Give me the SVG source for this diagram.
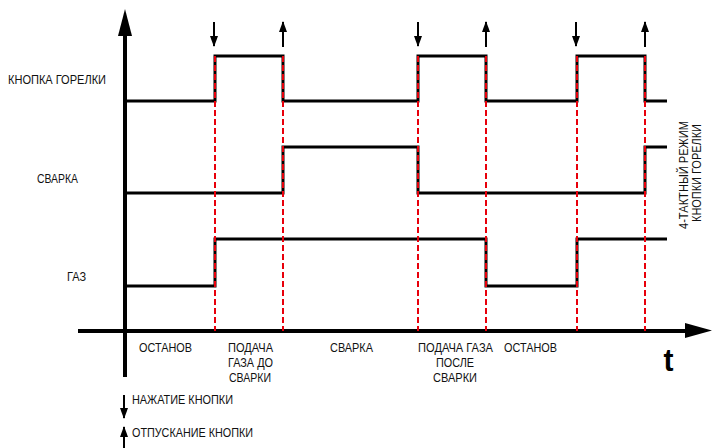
<svg xmlns="http://www.w3.org/2000/svg" width="713" height="448" viewBox="0 0 713 448">
  <style>
    .lbl { font-family: "Liberation Sans Narrow", "Liberation Sans", Arial, sans-serif; font-size: 12.5px; fill: #111; }
    .sig { fill: none; stroke: #000; stroke-width: 3; stroke-linejoin: miter; }
    .mark { stroke: #e8000b; stroke-width: 2; stroke-dasharray: 6 3; fill: none; }
    .axis { stroke: #000; stroke-width: 4; fill: none; }
    .evt { stroke: #000; stroke-width: 2; fill: none; }
  </style>
  <defs>
    <marker id="head" viewBox="0 0 11 8" refX="10" refY="4" markerWidth="5.5" markerHeight="4" markerUnits="strokeWidth" orient="auto">
      <path d="M0,0 L11,4 L0,8 Z" fill="#000"/>
    </marker>
  </defs>

  <rect width="713" height="448" fill="#fff"/>

  <!-- axes -->
  <g id="axes">
    <line class="axis" x1="125" y1="30" x2="125" y2="377"/>
    <polygon points="125,9 118,36 132,36" fill="#000"/>
    <line class="axis" x1="78" y1="331" x2="690" y2="331"/>
    <polygon points="712,330.5 685,323 685,338" fill="#000"/>
    <text x="668.5" y="371" text-anchor="middle" style="font-family: 'Liberation Sans', Arial, sans-serif; font-size: 32px; font-weight: bold;" textLength="10" lengthAdjust="spacingAndGlyphs">t</text>
  </g>

  <!-- signal traces -->
  <g id="signals">
    <polyline id="torch-button" class="sig" points="125,101 215,101 215,56 283,56 283,101 418,101 418,56 486,56 486,101 577,101 577,56 645,56 645,101 667,101"/>
    <polyline id="welding" class="sig" points="125,193 283,193 283,147 418,147 418,193 645,193 645,147 667,147"/>
    <polyline id="gas" class="sig" points="125,286 215,286 215,239 486,239 486,286 577,286 577,239 667,239"/>
  </g>

  <!-- connectors: phase boundaries and button events -->
  <g id="connectors">
    <line class="mark" x1="215" y1="56" x2="215" y2="331"/>
    <line class="mark" x1="283" y1="56" x2="283" y2="331"/>
    <line class="mark" x1="418" y1="56" x2="418" y2="331"/>
    <line class="mark" x1="486" y1="56" x2="486" y2="331"/>
    <line class="mark" x1="577" y1="56" x2="577" y2="331"/>
    <line class="mark" x1="645" y1="56" x2="645" y2="331"/>

    <line class="evt" x1="214" y1="22" x2="214" y2="46" marker-end="url(#head)"/>
    <line class="evt" x1="418" y1="22" x2="418" y2="46" marker-end="url(#head)"/>
    <line class="evt" x1="576" y1="22" x2="576" y2="46" marker-end="url(#head)"/>
    <line class="evt" x1="283" y1="47" x2="283" y2="22" marker-end="url(#head)"/>
    <line class="evt" x1="486" y1="47" x2="486" y2="22" marker-end="url(#head)"/>
    <line class="evt" x1="645" y1="47" x2="645" y2="22" marker-end="url(#head)"/>
  </g>

  <!-- row labels -->
  <g id="row-labels">
    <text class="lbl" x="8" y="84" textLength="98" lengthAdjust="spacingAndGlyphs">КНОПКА ГОРЕЛКИ</text>
    <text class="lbl" x="37" y="183" textLength="41" lengthAdjust="spacingAndGlyphs">СВАРКА</text>
    <text class="lbl" x="67" y="281" textLength="19" lengthAdjust="spacingAndGlyphs">ГАЗ</text>
  </g>

  <!-- phase labels -->
  <g id="phase-labels" text-anchor="middle">
    <text class="lbl" x="165.5" y="352" textLength="53" lengthAdjust="spacingAndGlyphs">ОСТАНОВ</text>
    <text class="lbl" x="250.5" y="352" textLength="45" lengthAdjust="spacingAndGlyphs">ПОДАЧА</text>
    <text class="lbl" x="250.5" y="367" textLength="45" lengthAdjust="spacingAndGlyphs">ГАЗА ДО</text>
    <text class="lbl" x="250" y="382" textLength="42" lengthAdjust="spacingAndGlyphs">СВАРКИ</text>
    <text class="lbl" x="351.5" y="352" textLength="43" lengthAdjust="spacingAndGlyphs">СВАРКА</text>
    <text class="lbl" x="455.5" y="352" textLength="75" lengthAdjust="spacingAndGlyphs">ПОДАЧА ГАЗА</text>
    <text class="lbl" x="455" y="367" textLength="38" lengthAdjust="spacingAndGlyphs">ПОСЛЕ</text>
    <text class="lbl" x="455" y="382" textLength="44" lengthAdjust="spacingAndGlyphs">СВАРКИ</text>
    <text class="lbl" x="530.5" y="352" textLength="53" lengthAdjust="spacingAndGlyphs">ОСТАНОВ</text>
  </g>

  <!-- mode caption -->
  <g id="mode-caption" text-anchor="middle">
    <text class="lbl" transform="translate(688,175) rotate(-90)" textLength="108" lengthAdjust="spacingAndGlyphs">4-ТАКТНЫЙ РЕЖИМ</text>
    <text class="lbl" transform="translate(701,173) rotate(-90)" textLength="98" lengthAdjust="spacingAndGlyphs">КНОПКИ ГОРЕЛКИ</text>
  </g>

  <!-- legend -->
  <g id="legend">
    <line class="evt" x1="124" y1="395" x2="124" y2="418" marker-end="url(#head)"/>
    <text class="lbl" x="132" y="404" textLength="101" lengthAdjust="spacingAndGlyphs">НАЖАТИЕ КНОПКИ</text>
    <line class="evt" x1="124" y1="450" x2="124" y2="427" marker-end="url(#head)"/>
    <text class="lbl" x="132" y="437" textLength="121" lengthAdjust="spacingAndGlyphs">ОТПУСКАНИЕ КНОПКИ</text>
  </g>
</svg>
